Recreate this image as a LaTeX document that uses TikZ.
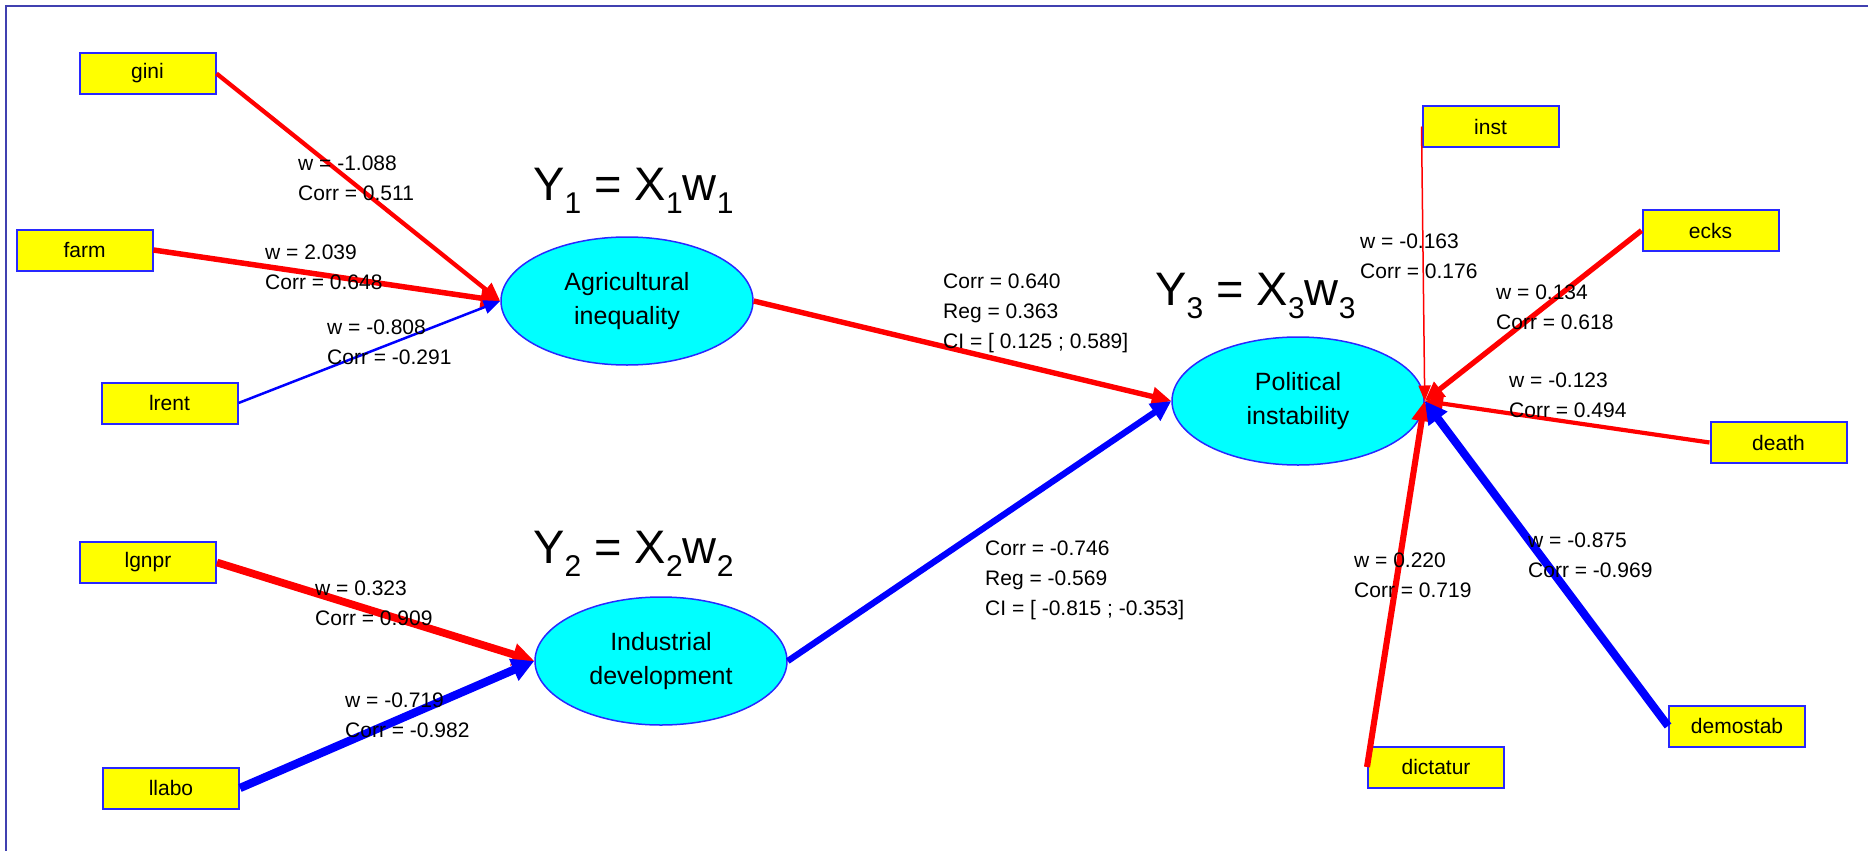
\documentclass[tikz,border=0pt]{standalone}
\usepackage{fontspec}
\setmainfont{Liberation Sans}
\usetikzlibrary{arrows.meta,shapes.geometric}
\definecolor{pred}{RGB}{255,0,0}
\definecolor{pblue}{RGB}{0,0,255}
\definecolor{boxblue}{RGB}{40,40,255}
\definecolor{framec}{RGB}{64,64,176}
\definecolor{pyellow}{RGB}{255,255,0}
\definecolor{pcyan}{RGB}{0,255,255}
\begin{document}
\begin{tikzpicture}[x=1pt,y=-1pt,
  box/.style={draw=boxblue, line width=2pt, fill=pyellow, minimum width=136pt, minimum height=41pt, inner sep=0pt, font=\fontsize{21}{24}\selectfont},
  lv/.style={draw=boxblue, line width=1.5pt, fill=pcyan, ellipse, minimum width=252pt, minimum height=128pt, inner sep=0pt, align=center, font=\fontsize{25}{34}\selectfont},
  lab/.style={anchor=west, align=left, inner sep=0pt, font=\fontsize{21}{30}\selectfont},
  eqn/.style={anchor=base west, inner sep=0pt, font=\fontsize{47}{50}\selectfont},
  pos/.style={draw=pred, line width=#1, -{Triangle[length=14pt 1, width=10pt 1.5]}},
  neg/.style={draw=pblue, line width=#1, -{Triangle[length=14pt 1, width=10pt 1.5]}}
]
\newcommand{\sbs}[1]{\raisebox{-13pt}{\fontsize{30}{30}\selectfont #1}}
\useasboundingbox (0,0) rectangle (1868,851);
\fill[white] (0,0) rectangle (1868,851);
\draw[framec, line width=2.5pt] (6,851) -- (6,6) -- (1868,6);

% latent variables
\node[lv] (agr) at (627,301) {Agricultural\\inequality};
\node[lv] (ind) at (661,661) {Industrial\\development};
\node[lv] (pol) at (1298,401) {Political\\instability};

% manifest variables
\node[box] (gini) at (147.5,73.5) {gini};
\node[box] (farm) at (84.5,250) {farm};
\node[box] (lrent) at (169.5,403) {lrent};
\node[box] (lgnpr) at (148,562.5) {lgnpr};
\node[box] (llabo) at (171,788) {llabo};
\node[box] (inst) at (1490.5,126.5) {inst};
\node[box] (ecks) at (1710.5,230.5) {ecks};
\node[box] (death) at (1778.5,442.5) {death};
\node[box] (dictatur) at (1436,767) {dictatur};
\node[box] (demostab) at (1737,726) {demostab};

% equations
\node[eqn] (e1) at (533,200) {Y\sbs{1} = X\sbs{1}w\sbs{1}};
\node[eqn] (e2) at (533,563) {Y\sbs{2} = X\sbs{2}w\sbs{2}};
\node[eqn] (e3) at (1155,305) {Y\sbs{3} = X\sbs{3}w\sbs{3}};

% connectors
\draw[pos=4.3pt] (gini.east) -- (agr.west);
\draw[pos=5.5pt] (farm.east) -- (agr.west);
\draw[neg=2.5pt] (lrent.east) -- (agr.west);
\draw[pos=7.7pt] (lgnpr.east) -- (ind.west);
\draw[neg=8.3pt] (llabo.east) -- (ind.west);
\draw[pos=5.4pt] (agr.east) -- (pol.west);
\draw[neg=6.3pt] (ind.east) -- (pol.west);
\draw[pos=1.5pt] (inst.west) -- (pol.east);
\draw[pos=5.3pt] (ecks.west) -- (pol.east);
\draw[pos=4.2pt] (death.west) -- (pol.east);
\draw[pos=6.1pt] (dictatur.west) -- (pol.east);
\draw[neg=8.2pt] (demostab.west) -- (pol.east);

% labels
\node[lab] (l1) at (298,178.5) {w = -1.088\\Corr = 0.511};
\node[lab] (l2) at (265,267) {w = 2.039\\Corr = 0.648};
\node[lab] (l3) at (327,342.5) {w = -0.808\\Corr = -0.291};
\node[lab] (l4) at (315,603) {w = 0.323\\Corr = 0.909};
\node[lab] (l5) at (345,715) {w = -0.719\\Corr = -0.982};
\node[lab] (l6) at (943,313.5) {Corr = 0.640\\Reg = 0.363\\CI = [ 0.125 ; 0.589]};
\node[lab] (l7) at (985,580) {Corr = -0.746\\Reg = -0.569\\CI = [ -0.815 ; -0.353]};
\node[lab] (l8) at (1360,256.5) {w = -0.163\\Corr = 0.176};
\node[lab] (l9) at (1496,307) {w = 0.134\\Corr = 0.618};
\node[lab] (l10) at (1509,395) {w = -0.123\\Corr = 0.494};
\node[lab] (l11) at (1354,575) {w = 0.220\\Corr = 0.719};
\node[lab] (l12) at (1528,555) {w = -0.875\\Corr = -0.969};
\end{tikzpicture}
\end{document}
